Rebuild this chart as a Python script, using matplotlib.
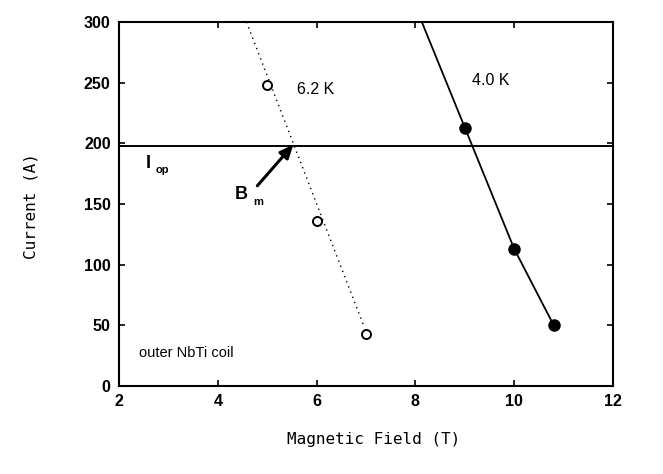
import matplotlib
matplotlib.use("Agg")
import matplotlib.pyplot as plt

# 6.2 K (open circles, dotted fit line)
b62 = [5.0, 6.0, 7.0]
i62 = [248, 136, 43]
fit62_b = [4.58, 6.95]
fit62_i = [300, 50]

# 4.0 K (filled circles, solid line)
b40 = [8.13, 9.0, 10.0, 10.8]
i40 = [300, 213, 113, 50]
b40_pts = [9.0, 10.0, 10.8]
i40_pts = [213, 113, 50]

i_op = 198
bm = 5.53

xticks = [2, 4, 6, 8, 10, 12]
yticks = [0, 50, 100, 150, 200, 250, 300]

fig = plt.figure(figsize=(6.63, 4.74), dpi=100)
ax = fig.add_axes([0.1795, 0.1857, 0.9246 - 0.1795, 0.9536 - 0.1857])

ax.plot(fit62_b, fit62_i, linestyle=(0, (1, 3)), color='black', linewidth=1.0)
ax.plot(b62, i62, 'o', mfc='white', mec='black', mew=1.4, ms=6.5, linestyle='none', zorder=3)
ax.plot(b40, i40, '-', color='black', linewidth=1.3)
ax.plot(b40_pts, i40_pts, 'o', color='black', ms=8, linestyle='none', zorder=3)
ax.axhline(i_op, color='black', linewidth=1.4)

ax.annotate('', xy=(bm, i_op + 1), xytext=(4.8, 165),
            arrowprops=dict(arrowstyle='-|>,head_length=0.8,head_width=0.35',
                            color='black', lw=2.2, shrinkA=0, shrinkB=0))

ax.text(2.55, 183, 'I', fontsize=13, fontweight='bold', family='Liberation Sans', va='center')
ax.text(2.75, 178, 'op', fontsize=8, fontweight='bold', family='Liberation Sans', va='center')
ax.text(4.35, 158, 'B', fontsize=13, fontweight='bold', family='Liberation Sans', va='center')
ax.text(4.72, 152, 'm', fontsize=8, fontweight='bold', family='Liberation Sans', va='center')
ax.text(5.6, 244, '6.2 K', fontsize=11.5, family='Liberation Sans', va='center')
ax.text(9.15, 252, '4.0 K', fontsize=11.5, family='Liberation Sans', va='center')
ax.text(2.4, 27, 'outer NbTi coil', fontsize=10.5, family='Liberation Sans', va='center')

ax.set_xlim(2, 12)
ax.set_ylim(0, 300)
ax.set_xticks(xticks)
ax.set_yticks(yticks)
ax.tick_params(direction='in', length=4, width=1.2, top=True, right=True,
               labelsize=11.5, pad=6)
for lab in ax.get_xticklabels() + ax.get_yticklabels():
    lab.set_fontweight('bold')
    lab.set_family('Liberation Sans')
for s in ax.spines.values():
    s.set_linewidth(1.5)

fig.text(0.563, 0.072, 'Magnetic Field (T)', fontsize=11.5, family='DejaVu Sans Mono',
         ha='center', va='center')
fig.text(0.047, 0.565, 'Current (A)', fontsize=11.5, family='DejaVu Sans Mono',
         ha='center', va='center', rotation=90)

fig.savefig('out.png', dpi=100)
